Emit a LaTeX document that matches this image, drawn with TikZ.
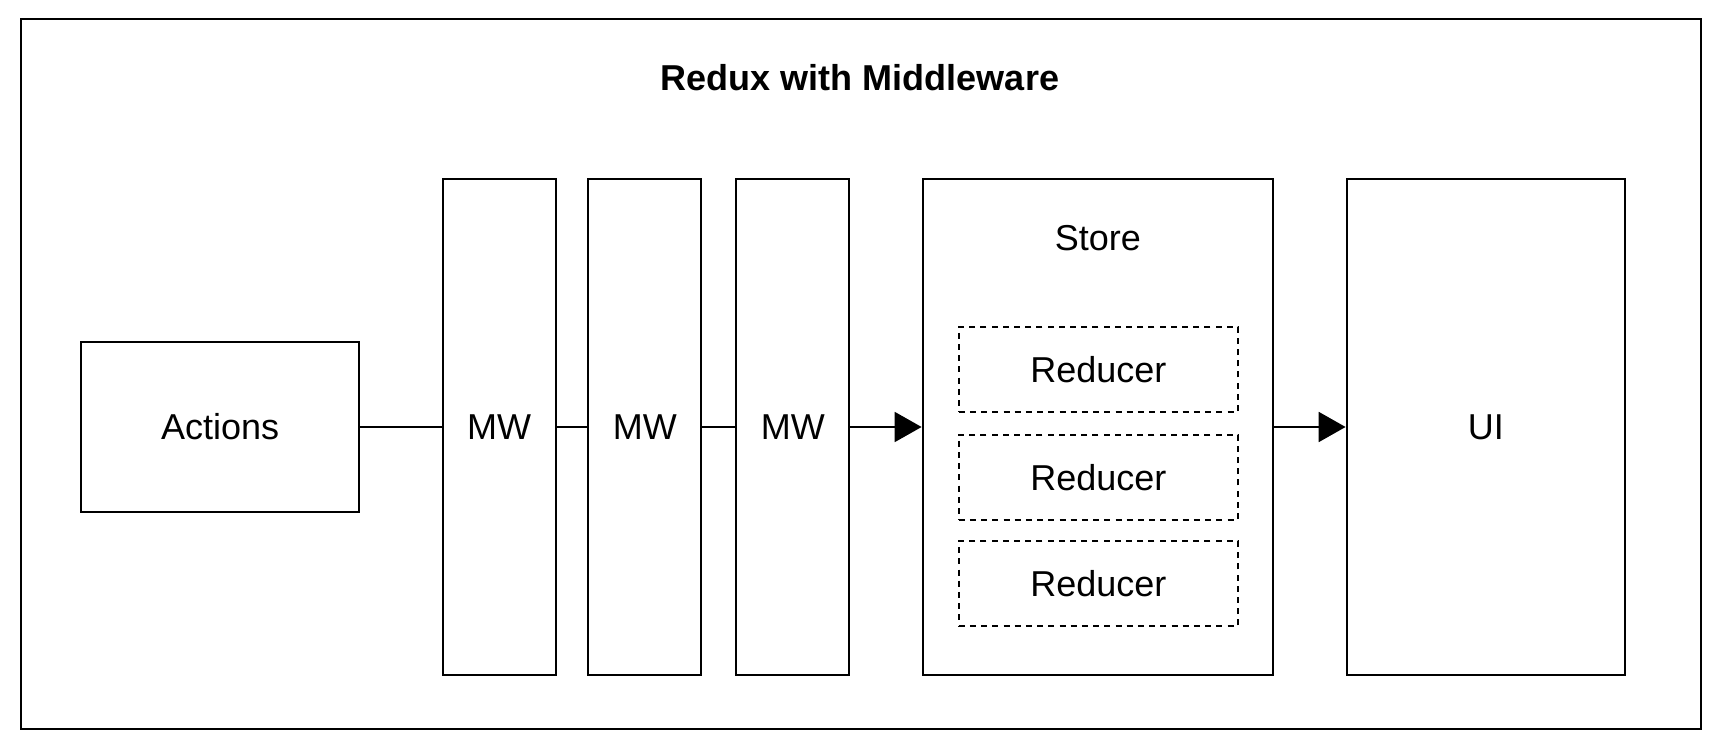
\documentclass[tikz,border=0pt]{standalone}
\usepackage{fontspec}
\setmainfont{Liberation Sans}
\usetikzlibrary{arrows.meta}

\begin{document}
\begin{tikzpicture}[x=0.5pt, y=-0.5pt,
        box/.style={draw, line width=1pt, inner sep=0pt, font=\fontsize{18pt}{22pt}\selectfont},
        mwbox/.style={box, minimum width=56.4pt, minimum height=248.2pt},
        redbox/.style={box, dash pattern=on 3pt off 2.6pt, minimum width=139.7pt, minimum height=42.4pt},
        link/.style={line width=1pt},
        flow/.style={line width=1pt, -{Triangle[length=13.5pt, width=15pt]}}]
        \useasboundingbox (0, 0) rectangle (1718, 748);

        % Draw the outer frame
        \draw[line width=1pt] (20.8, 18.6) rectangle (1700.5, 728.6);

        % Add title
        \node[font=\fontsize{18pt}{22pt}\selectfont\bfseries] (title) at (860, 78) {Redux with Middleware};

        % Draw the boxes
        \node[box, minimum width=139.2pt, minimum height=84.9pt] (actions) at (220.2, 427) {Actions};
        \node[mwbox] (mw1) at (499.1, 427) {MW};
        \node[mwbox] (mw2) at (644.8, 427) {MW};
        \node[mwbox] (mw3) at (792.75, 427) {MW};
        \node[box, minimum width=175.3pt, minimum height=248.2pt] (store) at (1097.9, 427) {};
        \node[box, minimum width=139.2pt, minimum height=248.2pt] (ui) at (1485.8, 427) {UI};

        % Add store contents
        \node[font=\fontsize{18pt}{22pt}\selectfont] (storelabel) at (1097.9, 238) {Store};
        \node[redbox] (red1) at (1098.4, 369.3) {Reducer};
        \node[redbox] (red2) at (1098.4, 477.2) {Reducer};
        \node[redbox] (red3) at (1098.4, 583.5) {Reducer};

        % Connect the boxes
        \draw[link] (actions) -- (mw1);
        \draw[link] (mw1) -- (mw2);
        \draw[link] (mw2) -- (mw3);
        \draw[flow] (mw3) -- (store);
        \draw[flow] (store) -- (ui);
    \end{tikzpicture}
\end{document}
